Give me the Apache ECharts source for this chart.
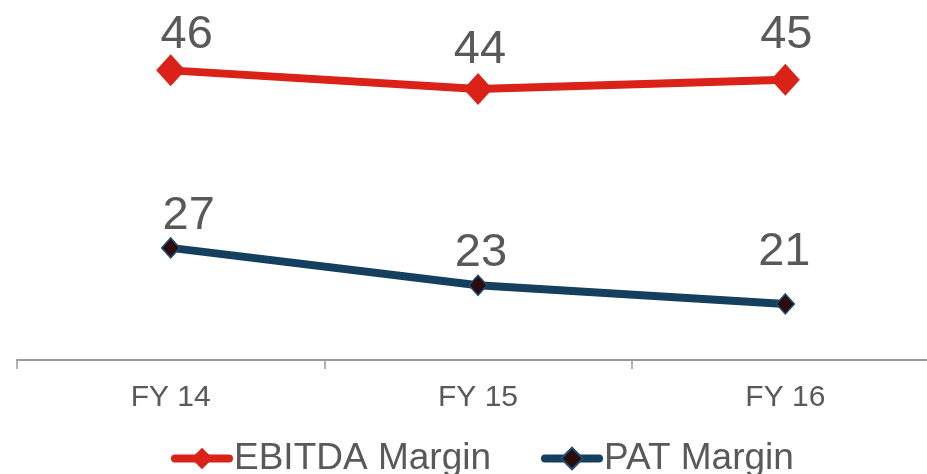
<!DOCTYPE html>
<html>
<head>
<meta charset="utf-8">
<title>EBITDA and PAT Margin</title>
<script src="https://cdn.jsdelivr.net/npm/echarts@6/dist/echarts.min.js"></script>
<style>
  html, body { margin: 0; padding: 0; background: #ffffff; }
  #chart { width: 927px; height: 474px; }
</style>
</head>
<body>
<div id="chart"></div>
<script>
// Margins (%) by fiscal year
const categories = ['FY 14', 'FY 15', 'FY 16'];
const seriesNames = ['EBITDA Margin', 'PAT Margin'];
const ebitdaMargin = [46, 44, 45];
const patMargin = [27, 23, 21];

// Per-point label nudges [dx, dy] from the marker centre
const ebitdaLabelNudge = [[16, -35], [2, -39], [1, -45]];
const patLabelNudge = [[18, -32], [3, -32], [-1, -52]];

const textGrey = '#595959';
const red = '#DA2219';
const navy = '#143F5E';

function withLabels(values, nudges) {
  return values.map((v, i) => ({
    value: v,
    label: { offset: nudges[i] }
  }));
}

const chart = echarts.init(document.getElementById('chart'), null, { renderer: 'canvas' });

chart.setOption({
  animation: false,
  backgroundColor: '#ffffff',
  textStyle: { fontFamily: 'Liberation Sans, Arial, sans-serif' },
  grid: {
    left: 17,
    width: 922,
    top: 33,
    bottom: 114,
    containLabel: false,
    outerBoundsMode: 'none'
  },
  xAxis: {
    type: 'category',
    data: categories,
    boundaryGap: true,
    axisLine: { show: true, lineStyle: { color: '#9a9a9a', width: 2 } },
    axisTick: { show: true, length: 9, interval: 0, lineStyle: { color: '#9a9a9a', width: 1.5 } },
    axisLabel: { color: textGrey, fontSize: 30, margin: 23, interval: 0 },
    splitLine: { show: false }
  },
  yAxis: {
    type: 'value',
    min: 15,
    max: 50,
    show: false,
    splitLine: { show: false }
  },
  legend: {
    data: seriesNames,
    left: 166,
    top: 435,
    itemWidth: 54,
    itemHeight: 27,
    itemGap: 50,
    textStyle: { color: textGrey, fontSize: 37 },
    lineStyle: { width: 8, cap: 'round' }
  },
  series: [
    {
      name: seriesNames[0],
      type: 'line',
      data: withLabels(ebitdaMargin, ebitdaLabelNudge),
      symbol: 'diamond',
      symbolSize: [29, 32],
      lineStyle: { color: red, width: 8 },
      itemStyle: { color: red },
      label: {
        show: true,
        position: 'inside',
        color: textGrey,
        fontSize: 47
      },
      emphasis: { disabled: true }
    },
    {
      name: seriesNames[1],
      type: 'line',
      data: withLabels(patMargin, patLabelNudge),
      symbol: 'diamond',
      symbolSize: [18, 20],
      lineStyle: { color: navy, width: 8 },
      itemStyle: { color: '#2B0B0B', borderColor: '#1D4F72', borderWidth: 1.5 },
      label: {
        show: true,
        position: 'inside',
        color: textGrey,
        fontSize: 47
      },
      emphasis: { disabled: true }
    }
  ]
});
</script>
</body>
</html>
